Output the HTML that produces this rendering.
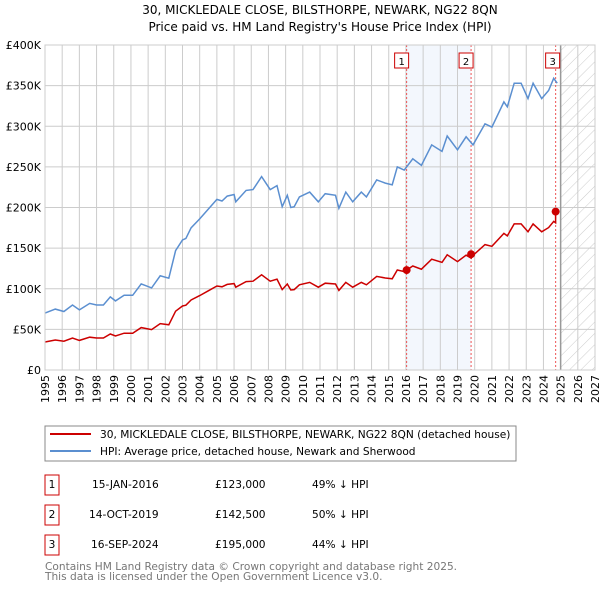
<!DOCTYPE html>
<html><head><meta charset="utf-8"><style>
body{margin:0;background:#fff;font-family:"DejaVu Sans","Liberation Sans",sans-serif;}
svg{display:block}
</style></head><body>
<svg id="c" width="600" height="590" xmlns="http://www.w3.org/2000/svg" font-family="DejaVu Sans, Liberation Sans, sans-serif">
<text x="320" y="14" font-size="12" text-anchor="middle">30, MICKLEDALE CLOSE, BILSTHORPE, NEWARK, NG22 8QN</text>
<text x="320" y="31" font-size="12" text-anchor="middle">Price paid vs. HM Land Registry's House Price Index (HPI)</text>
<defs><pattern id="hatch" width="8" height="8" patternUnits="userSpaceOnUse" patternTransform="rotate(45)"><line x1="0" y1="0" x2="0" y2="8" stroke="#ccc" stroke-width="1"/></pattern></defs>
<g id="plot"></g>
<rect x="45" y="426" width="471" height="35" fill="none" stroke="#888"/>
<line x1="50" y1="434" x2="91" y2="434" stroke="#cc0000" stroke-width="2"/>
<text x="100" y="438" font-size="10.6">30, MICKLEDALE CLOSE, BILSTHORPE, NEWARK, NG22 8QN (detached house)</text>
<line x1="50" y1="451" x2="91" y2="451" stroke="#5b8fd0" stroke-width="2"/>
<text x="100" y="455" font-size="10.6">HPI: Average price, detached house, Newark and Sherwood</text>
<g font-size="10.6">
<rect x="45" y="475" width="14" height="20" fill="none" stroke="#cc0000"/><text x="52" y="488" text-anchor="middle">1</text>
<text x="92" y="488">15-JAN-2016</text><text x="215" y="488">£123,000</text><text x="312" y="488">49% ↓ HPI</text>
<rect x="45" y="505" width="14" height="20" fill="none" stroke="#cc0000"/><text x="52" y="518" text-anchor="middle">2</text>
<text x="89" y="518">14-OCT-2019</text><text x="215" y="518">£142,500</text><text x="312" y="518">50% ↓ HPI</text>
<rect x="45" y="535" width="14" height="20" fill="none" stroke="#cc0000"/><text x="52" y="548" text-anchor="middle">3</text>
<text x="91" y="548">16-SEP-2024</text><text x="215" y="548">£195,000</text><text x="312" y="548">44% ↓ HPI</text>
</g>
<text x="45" y="570" font-size="10.6" fill="#777">Contains HM Land Registry data © Crown copyright and database right 2025.</text>
<text x="45" y="580" font-size="10.6" fill="#777">This data is licensed under the Open Government Licence v3.0.</text>
</svg>
<script>
const hpiYears=[1995.0,1995.6,1996.1,1996.6,1997.0,1997.6,1998.0,1998.4,1998.8,1999.1,1999.6,2000.1,2000.6,2001.2,2001.7,2002.2,2002.6,2003.0,2003.2,2003.5,2004.0,2004.5,2005.0,2005.3,2005.6,2006.0,2006.1,2006.7,2007.1,2007.6,2008.1,2008.5,2008.8,2009.1,2009.3,2009.5,2009.8,2010.4,2010.9,2011.3,2011.9,2012.1,2012.5,2012.9,2013.4,2013.7,2014.3,2014.8,2015.2,2015.5,2015.9,2016.4,2016.9,2017.5,2018.1,2018.4,2019.0,2019.5,2019.9,2020.6,2021.0,2021.7,2021.9,2022.3,2022.7,2023.1,2023.4,2023.9,2024.3,2024.6,2024.8];
const hpiValues=[70,75,72,80,74,82,80,80,90,85,92,92,106,101,116,113,147,160,162,175,186,198,210,208,214,216,207,221,222,238,222,227,201,215,200,201,213,219,207,217,215,199,219,207,219,213,234,230,228,250,246,260,252,277,269,288,271,287,277,303,299,330,324,353,353,334,353,334,344,359,353];
const saleYears=[2016.04,2019.79,2024.71];
const salePrices=[123,142.5,195];
const yTicks=[0,50,100,150,200,250,300,350,400];
const yTickLabels=["£0","£50K","£100K","£150K","£200K","£250K","£300K","£350K","£400K"];
const xTicks=[1995,1996,1997,1998,1999,2000,2001,2002,2003,2004,2005,2006,2007,2008,2009,2010,2011,2012,2013,2014,2015,2016,2017,2018,2019,2020,2021,2022,2023,2024,2025,2026,2027];
const X0=45,X1=595,Y0=370,Y1=45,XMIN=1995,XMAX=2027,YMAX=400,DATAEND=2025.0;
const sx=y=>X0+(y-XMIN)/(XMAX-XMIN)*(X1-X0);
const sy=v=>Y0-v/YMAX*(Y0-Y1);
const NS="http://www.w3.org/2000/svg";
const g=document.getElementById('plot');
function mk(t,a){const e=document.createElementNS(NS,t);for(const k in a)e.setAttribute(k,a[k]);g.appendChild(e);return e;}
function hpiAt(t){for(let i=0;i<hpiYears.length-1;i++){if(t<=hpiYears[i+1]){const f=(t-hpiYears[i])/(hpiYears[i+1]-hpiYears[i]);return hpiValues[i]+f*(hpiValues[i+1]-hpiValues[i]);}}return hpiValues[hpiValues.length-1];}
let e=mk('rect',{x:sx(saleYears[0]),y:Y1,width:sx(saleYears[1])-sx(saleYears[0]),height:Y0-Y1,fill:'#eef3fc',opacity:0.7});

e=mk('rect',{x:sx(DATAEND),y:Y1,width:X1-sx(DATAEND),height:Y0-Y1,fill:'url(#hatch)'});

xTicks.forEach(t=>{const l=mk('line',{x1:sx(t),x2:sx(t),y1:Y1,y2:Y0,stroke:'#ccc'});

const tx=mk('text',{x:0,y:0,'font-size':11,'text-anchor':'end',transform:`translate(${sx(t)+4},${Y0+5}) rotate(-90)`});tx.textContent=t;
});
yTicks.forEach((t,i)=>{const l=mk('line',{x1:X0,x2:X1,y1:sy(t),y2:sy(t),stroke:'#ccc'});

const tx=mk('text',{x:X0-4,y:sy(t)+4,'font-size':11,'text-anchor':'end'});tx.textContent=yTickLabels[i];
});
e=mk('line',{x1:sx(DATAEND),x2:sx(DATAEND),y1:Y1,y2:Y0,stroke:'#999','stroke-width':1.5});

saleYears.forEach((s,i)=>{const l=mk('line',{x1:sx(s),x2:sx(s),y1:Y1,y2:Y0,stroke:'#e55','stroke-dasharray':'2,2'});

const bx=sx(s)-(i==2?10:12);
const r=mk('rect',{x:bx,y:53,width:14,height:15,fill:'#fff',stroke:'#cc0000'});

const t=mk('text',{x:bx+7,y:65,'font-size':10,'text-anchor':'middle'});t.textContent=i+1;
});
let pts=hpiYears.map((y,i)=>sx(y).toFixed(1)+','+sy(hpiValues[i]).toFixed(1)).join(' ');
e=mk('polyline',{points:pts,fill:'none',stroke:'#5b8fd0','stroke-width':1.5});

const rp=[];
function seg(a,b,k){const t=[a,...hpiYears.filter(y=>y>a&&y<b),b];t.forEach(y=>rp.push(sx(y).toFixed(1)+','+sy(salePrices[k]*hpiAt(y)/hpiAt(saleYears[k])).toFixed(1)));}
seg(XMIN,saleYears[1],0);seg(saleYears[1],saleYears[2],1);seg(saleYears[2],hpiYears[hpiYears.length-1],2);
e=mk('polyline',{points:rp.join(' '),fill:'none',stroke:'#cc0000','stroke-width':1.5});

saleYears.forEach((s,i)=>{const c=mk('circle',{cx:sx(s),cy:sy(salePrices[i]),r:4,fill:'#cc0000'});
});
e=mk('rect',{x:X0,y:Y1,width:X1-X0,height:Y0-Y1,fill:'none',stroke:'#ccc'});

</script>
</body></html>
